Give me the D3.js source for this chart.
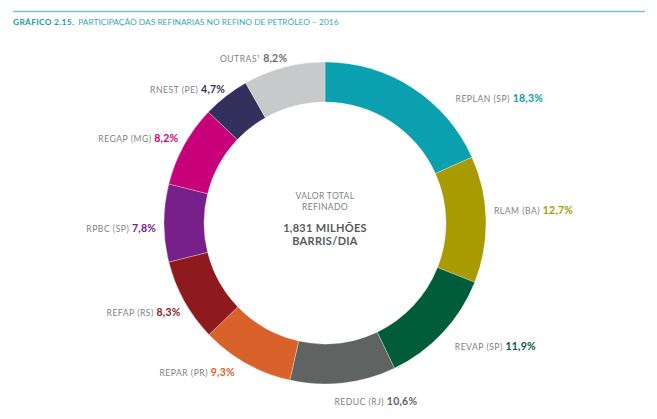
<!DOCTYPE html>
<html>
<head>
<meta charset="utf-8">
<script src="https://cdn.jsdelivr.net/npm/d3@7"></script>
<style>
  body { margin: 0; background: #fff; }
  svg { display: block; font-family: Lato, "Open Sans", sans-serif; }
</style>
</head>
<body>
<script>
// refinarias e participação (%) no refino de petróleo 2016
const refinarias = ["REPLAN (SP)", "RLAM (BA)", "REVAP (SP)", "REDUC (RJ)", "REPAR (PR)",
                    "REFAP (RS)", "RPBC (SP)", "REGAP (MG)", "RNEST (PE)", "OUTRAS¹"];
const participacao = [18.3, 12.7, 11.9, 10.6, 9.3, 8.3, 7.8, 8.2, 4.7, 8.2];
const cores = ["#0aa0b0", "#a89a00", "#005c3a", "#5f6462", "#d9622a",
               "#8f1a1e", "#772089", "#c8007a", "#34305e", "#c8c9cb"];
const coresValor = ["#0aa0b0", "#a89a00", "#005c3a", "#5f6462", "#d9622a",
                    "#8f1a1e", "#772089", "#c8007a", "#34305e", "#6d6e71"];

// small hand nudges for the labels, like the original layout
const nudge = [[37, 18], [-3, -11], [4, 4], [-10, 5], [-6, -3],
               [6, 4], [3, 3], [4, -4], [6, 0], [6, 0]];

const width = 657, height = 419;
const cx = 325, cy = 223;
const outerR = 161, innerR = 121, labelR = 172;

const svg = d3.select("body").append("svg")
    .attr("width", width)
    .attr("height", height);

// top rule + title
svg.append("line")
    .attr("x1", 13).attr("x2", 645)
    .attr("y1", 11.5).attr("y2", 11.5)
    .attr("stroke", "#7cc4cc")
    .attr("stroke-width", 1.5);

const title = svg.append("text")
    .attr("x", 13).attr("y", 25)
    .attr("font-size", 8.4)
    .attr("fill", "#1a9aa8");
title.append("tspan").attr("font-weight", 700).attr("letter-spacing", 0.3).text("GRÁFICO 2.15.");
title.append("tspan").attr("dx", 4).attr("fill", "#3aa9b5").text("PARTICIPAÇÃO DAS REFINARIAS NO REFINO DE PETRÓLEO – 2016");

const data = refinarias.map((name, i) => ({name, value: participacao[i], i}));

const pie = d3.pie().sort(null).value(d => d.value);
const arc = d3.arc().innerRadius(innerR).outerRadius(outerR);

const g = svg.append("g").attr("transform", `translate(${cx},${cy})`);
const arcs = pie(data);

g.selectAll("path")
  .data(arcs)
  .join("path")
    .attr("d", arc)
    .attr("fill", d => cores[d.data.i])
    .attr("stroke", "#fff")
    .attr("stroke-width", 0.3);

// labels
const fmt = v => d3.format(".1f")(v).replace(".", ",") + "%";

const lab = g.selectAll("text.lab")
  .data(arcs)
  .join("text")
    .attr("class", "lab")
    .each(function(d) {
      const a = (d.startAngle + d.endAngle) / 2;
      const n = nudge[d.data.i];
      const x = Math.sin(a) * labelR + n[0];
      const y = -Math.cos(a) * labelR + n[1];
      d3.select(this)
        .attr("x", x).attr("y", y)
        .attr("dy", "0.35em")
        .attr("text-anchor", a < Math.PI ? "start" : "end");
    });

lab.append("tspan")
    .attr("font-size", 8.6)
    .attr("fill", "#808285")
    .attr("letter-spacing", 0.5)
    .text(d => d.data.name + " ");

lab.append("tspan")
    .attr("font-size", 10.5)
    .attr("font-weight", 700)
    .attr("letter-spacing", 0.2)
    .attr("fill", d => coresValor[d.data.i])
    .text(d => fmt(d.data.value));

// centre text
const centro = [
  {t: "VALOR TOTAL", y: -27, size: 8.6, w: 400, c: "#808285"},
  {t: "REFINADO", y: -16, size: 8.6, w: 400, c: "#808285"},
  {t: "1,831 MILHÕES", y: 5, size: 11, w: 700, c: "#58595b"},
  {t: "BARRIS/DIA", y: 18, size: 11, w: 700, c: "#58595b"}
];
g.selectAll("text.centro")
  .data(centro)
  .join("text")
    .attr("class", "centro")
    .attr("text-anchor", "middle")
    .attr("y", d => d.y)
    .attr("dy", "0.35em")
    .attr("font-size", d => d.size)
    .attr("font-weight", d => d.w)
    .attr("letter-spacing", d => d.w === 700 ? 0.3 : 0.3)
    .attr("fill", d => d.c)
    .text(d => d.t);
</script>
</body>
</html>
